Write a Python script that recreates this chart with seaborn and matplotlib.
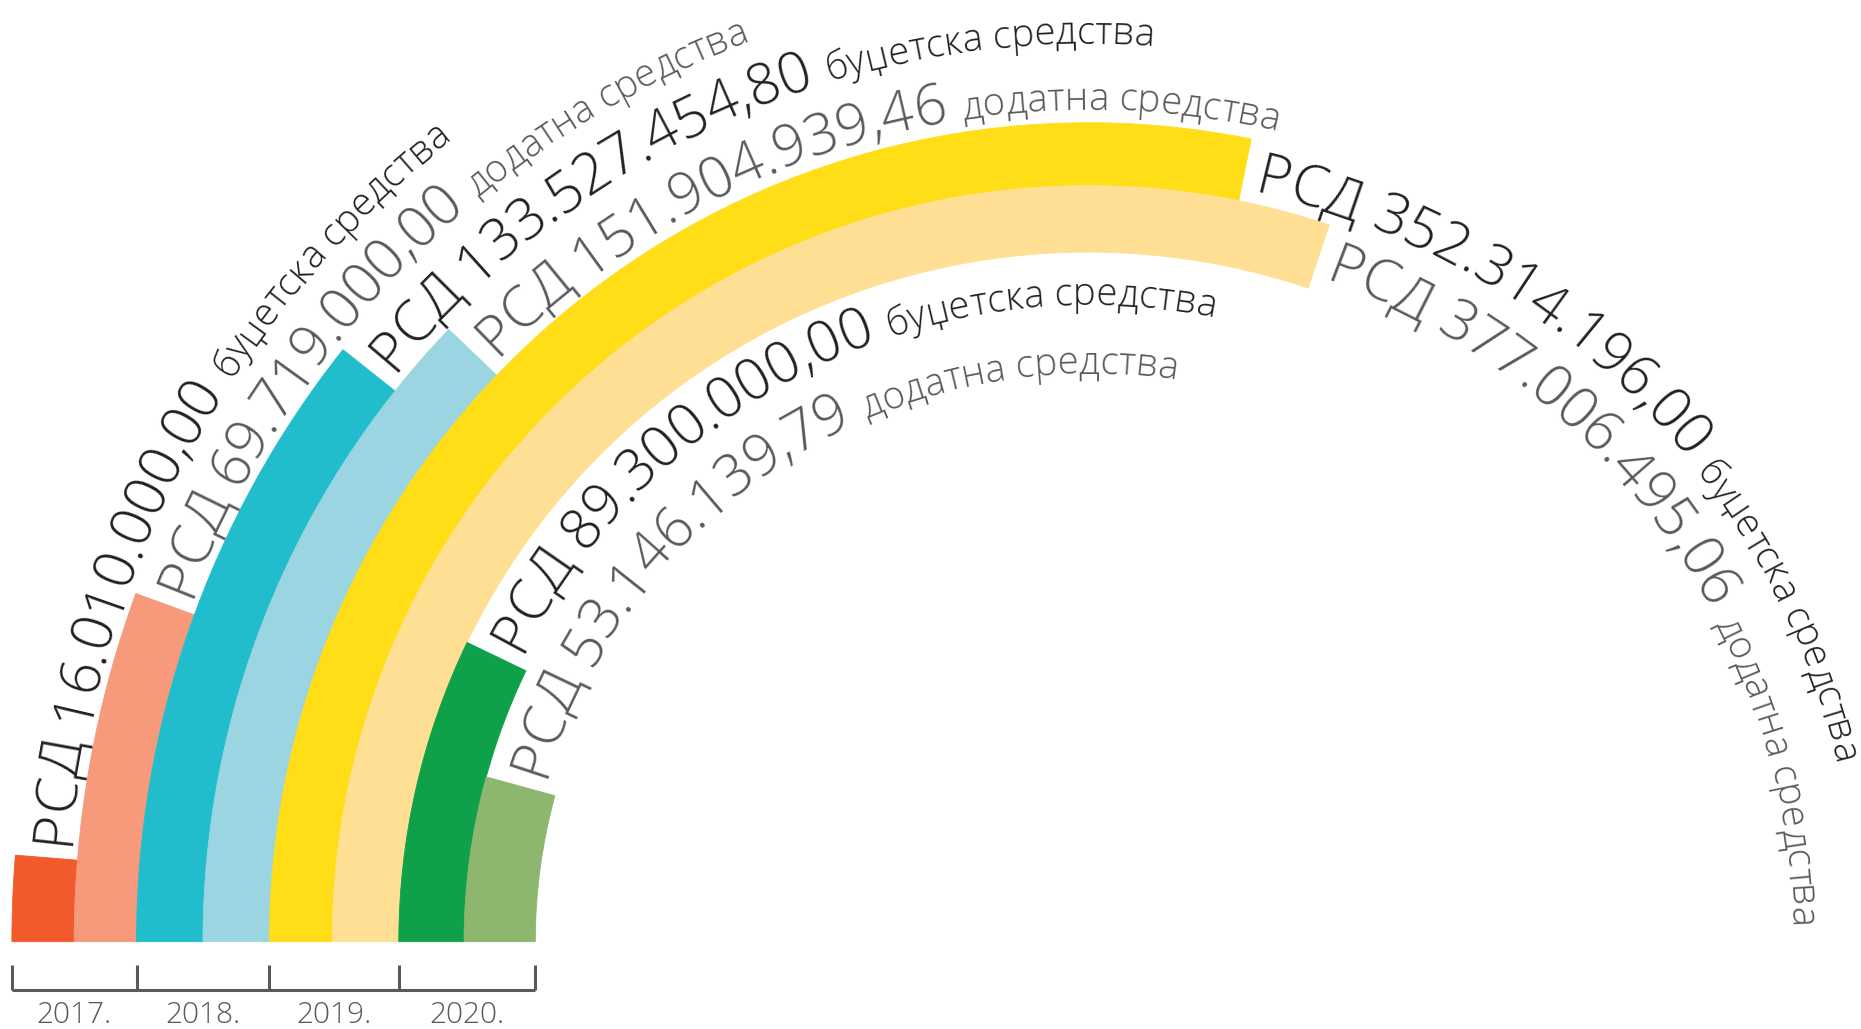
import numpy as np
import pandas as pd
import matplotlib
matplotlib.use("Agg")
import matplotlib.pyplot as plt
import seaborn as sns
from matplotlib.font_manager import FontProperties

# ---------------- data ----------------
years = ["2017.", "2018.", "2019.", "2020."]
budget_rsd = [16010000.00, 133527454.80, 352314196.00, 89300000.00]
additional_rsd = [69719000.00, 151904939.46, 377006495.06, 53146139.79]
kind_labels = ["буџетска средства", "додатна средства"]
currency = "РСД"
budget_colors = ["#F15A2B", "#21BDCD", "#FFDD17", "#0FA04A"]
additional_colors = ["#F69A7B", "#9AD5E1", "#FFDF93", "#8DB66E"]
text_colors = ["#231F20", "#58595B"]

# ---------------- layout ----------------
W, H, DPI = 1861, 1029, 100
CX, CY = 1088.4, 941.7          # centre of the rainbow (px, from top-left)
R_LIM = 1080.0
HALF_TURN_VALUE = 625e6          # value that fills 180 degrees
band_edges = [1076.5, 1014.2, 951.9, 885.4, 819.0, 756.1, 689.6, 624.3, 553.1]
BIG_PT, SMALL_PT, YEAR_PT = 41, 27.6, 21.5
GAP_PX = 13
FONT_FAMILY = ["Open Sans", "DejaVu Sans"]
FONT_WEIGHT = "light"

sns.set_theme(style="white")
plt.rcParams["font.family"] = FONT_FAMILY

rows = []
for i, y in enumerate(years):
    rows.append(dict(year=y, kind=kind_labels[0], value=budget_rsd[i],
                     color=budget_colors[i], tcolor=text_colors[0]))
    rows.append(dict(year=y, kind=kind_labels[1], value=additional_rsd[i],
                     color=additional_colors[i], tcolor=text_colors[1]))
df = pd.DataFrame(rows)
df["r_out"] = band_edges[:-1]
df["r_in"] = band_edges[1:]
df["theta"] = df["value"] / HALF_TURN_VALUE * np.pi


def fmt(v):
    s = f"{v:,.2f}"
    return s.replace(",", "X").replace(".", ",").replace("X", ".")


fig = plt.figure(figsize=(W / DPI, H / DPI), dpi=DPI)
fig.patch.set_facecolor("white")

# bottom year bracket (x data = radius from centre, y = px from top)
ax2 = fig.add_axes([0, 0, 1, 1], zorder=0)
ax2.set_xlim(CX, CX - W)
ax2.set_ylim(H, 0)
ax2.set_axis_off()
axis_gray = "#58595B"
year_edges = band_edges[::2]
ax2.hlines(990, year_edges[0], year_edges[-1], color=axis_gray, lw=2.2)
ax2.vlines(year_edges, 965, 990, color=axis_gray, lw=2.2)
for i, y in enumerate(years):
    xm = (year_edges[i] + year_edges[i + 1]) / 2
    ax2.text(xm, 1015, y, ha="center", va="center", fontsize=YEAR_PT,
             color=axis_gray, family=FONT_FAMILY, weight=FONT_WEIGHT)

# polar rainbow
ax = fig.add_axes([(CX - R_LIM) / W, (H - CY - R_LIM) / H, 2 * R_LIM / W, 2 * R_LIM / H],
                  projection="polar", zorder=1)
ax.set_theta_zero_location("W")
ax.set_theta_direction(-1)
ax.set_ylim(0, R_LIM)
ax.set_axis_off()

ax.bar(np.zeros(len(df)), df["r_out"] - df["r_in"], width=df["theta"],
       bottom=df["r_in"], align="edge", color=df["color"],
       edgecolor=df["color"], linewidth=0.6)

renderer = fig.canvas.get_renderer()
big_fp = FontProperties(family=FONT_FAMILY, size=BIG_PT, weight=FONT_WEIGHT)
small_fp = FontProperties(family=FONT_FAMILY, size=SMALL_PT, weight=FONT_WEIGHT)


def width(s, fp):
    return renderer.get_text_width_height_descent(s, fp, ismath=False)[0]


def adv(s, fp):
    if not s:
        return 0.0
    return width(s + "I", fp) - width("I", fp)


def curved_text(segments, theta0, r, color):
    pos = 0.0
    for text, fp in segments:
        prev = 0.0
        for i, ch in enumerate(text):
            nxt = adv(text[: i + 1], fp)
            if ch != " ":
                sc = pos + (prev + nxt) / 2
                th = theta0 + sc / r
                ax.text(th, r, ch, fontproperties=fp, color=color,
                        rotation=90 - np.degrees(th), rotation_mode="anchor",
                        ha="center", va="baseline")
            prev = nxt
        pos += prev


cap_half = 0.36 * BIG_PT * DPI / 72
for _, row in df.iterrows():
    r_mid = (row.r_out + row.r_in) / 2
    r_base = r_mid - cap_half
    theta0 = row.theta + GAP_PX / r_base
    big = f"{currency} {fmt(row.value)} "
    curved_text([(big, big_fp), (row.kind, small_fp)], theta0, r_base, row.tcolor)

fig.savefig("out.png", dpi=DPI, facecolor="white")
